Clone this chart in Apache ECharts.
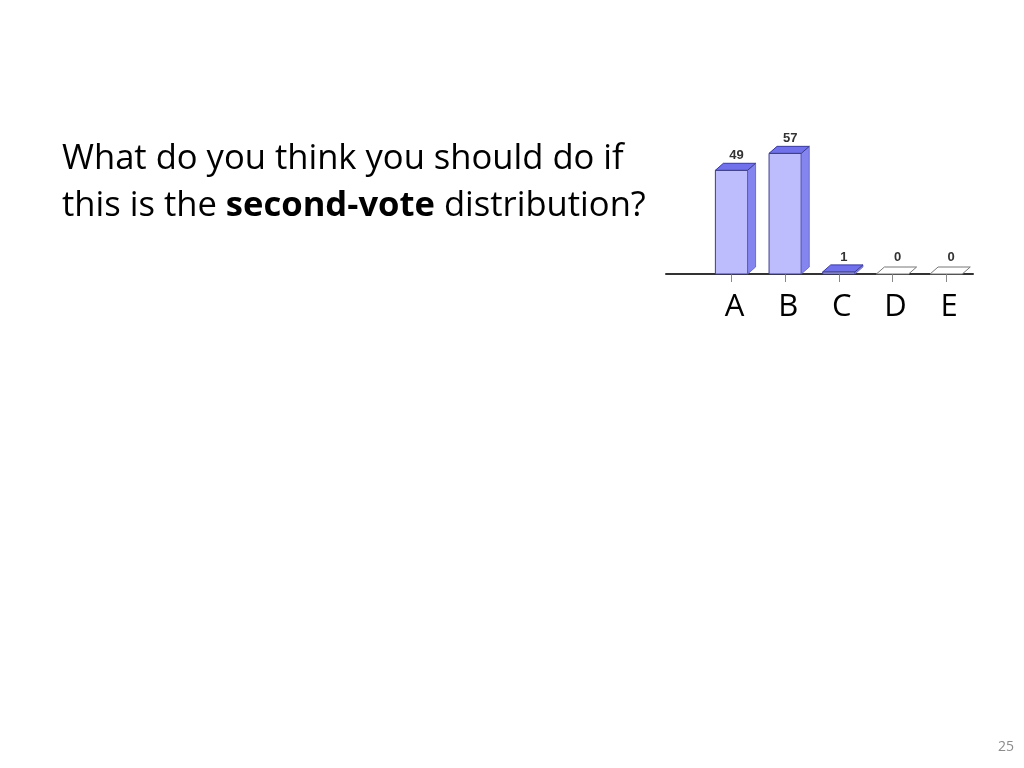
<!DOCTYPE html>
<html>
<head>
<meta charset="utf-8">
<script src="https://cdn.jsdelivr.net/npm/echarts@6/dist/echarts.min.js"></script>
<style>
  html, body { margin: 0; padding: 0; background: #fff; }
  #main { width: 1024px; height: 768px; }
</style>
</head>
<body>
<div id="main"></div>
<script>
// answer options and the second-vote counts
var categories = ['A', 'B', 'C', 'D', 'E'];
var votes = [49, 57, 1, 0, 0];
var pageNumber = '25';

var barData = [];
for (var i = 0; i < votes.length; i++) {
	barData.push([i, votes[i]]);
}

var DX = 8, DY = -7;

function renderBar(params, api) {
	var x = api.value(0);
	var v = api.value(1);
	var top = api.coord([x, v]);
	var base = api.coord([x, 0]);
	var w = api.size([0.6, 0])[0];
	var x0 = top[0] - w / 2, x1 = top[0] + w / 2;
	var yt = Math.min(top[1], base[1] - 2);
	var yb = base[1];
	var children = [];
	var stroke = '#3c3c8c';
	if (v > 0) {
		// front face
		children.push({
			type: 'rect',
			shape: { x: x0, y: yt, width: w, height: yb - yt },
			style: { fill: '#bdbdfd', stroke: stroke, lineWidth: 1 }
		});
		// right side
		children.push({
			type: 'polygon',
			shape: { points: [[x1, yt], [x1 + DX, yt + DY], [x1 + DX, yb + DY], [x1, yb]] },
			style: { fill: '#8585f0', stroke: '#5a5ac8', lineWidth: 0.8 }
		});
		// top
		children.push({
			type: 'polygon',
			shape: { points: [[x0, yt], [x0 + DX, yt + DY], [x1 + DX, yt + DY], [x1, yt]] },
			style: { fill: '#7171ec', stroke: stroke, lineWidth: 1 }
		});
	} else {
		children.push({
			type: 'polygon',
			shape: { points: [[x0, yb], [x0 + DX, yb + DY], [x1 + DX, yb + DY], [x1, yb]] },
			style: { fill: '#ffffff', stroke: '#777777', lineWidth: 1 }
		});
	}
	children.push({
		type: 'text',
		style: {
			x: top[0] + DX / 2 + 1,
			y: yt + DY - 1,
			text: String(v),
			fill: '#333333',
			font: 'bold 13px "Liberation Sans Narrow", "Liberation Sans", sans-serif',
			align: 'center',
			verticalAlign: 'bottom'
		}
	});
	return { type: 'group', children: children };
}

var option = {
	backgroundColor: '#ffffff',
	animation: false,
	title: [{
		left: 62,
		top: 136,
		padding: 0,
		text: '{n|What do you think you should do if}\n{n|this is the }{b|second-vote}{n| distribution?}',
		textStyle: {
			fontWeight: 'normal',
			rich: {
				n: { fontFamily: 'Open Sans', fontSize: 34.6, fontWeight: 'normal', color: '#000000', lineHeight: 47 },
				b: { fontFamily: 'Open Sans', fontSize: 34.6, fontWeight: 'bold', color: '#000000', lineHeight: 47 }
			}
		}
	}, {
		right: 10,
		top: 740,
		padding: 0,
		text: pageNumber,
		textStyle: { fontFamily: 'Open Sans', fontSize: 14, fontWeight: 'normal', color: '#8c8c8c' }
	}],
	grid: { left: 666, right: 51, top: 147, bottom: 494 },
	xAxis: {
		type: 'value',
		min: -1.22,
		max: 4.5,
		splitLine: { show: false },
		axisLine: { show: true, onZero: false, lineStyle: { color: '#333333', width: 2 } },
		axisTick: {
			show: true,
			length: 8,
			customValues: [0, 1, 2, 3, 4],
			lineStyle: { color: '#888888', width: 1 }
		},
		axisLabel: {
			customValues: [0, 1, 2, 3, 4],
			margin: 18,
			fontFamily: 'Open Sans',
			fontSize: 31,
			color: '#000000',
			padding: [0, 0, 0, 6],
			formatter: function (v) { return categories[Math.round(v)] || ''; }
		}
	},
	yAxis: {
		type: 'value',
		min: 0,
		max: 60,
		show: false,
		splitLine: { show: false }
	},
	series: [{
		type: 'custom',
		renderItem: renderBar,
		data: barData,
		z: 1
	}]
};

var myChart = echarts.init(document.getElementById('main'));
myChart.setOption(option, true);

window.onresize = function () {
	myChart.resize();
};
</script>
</body>
</html>
